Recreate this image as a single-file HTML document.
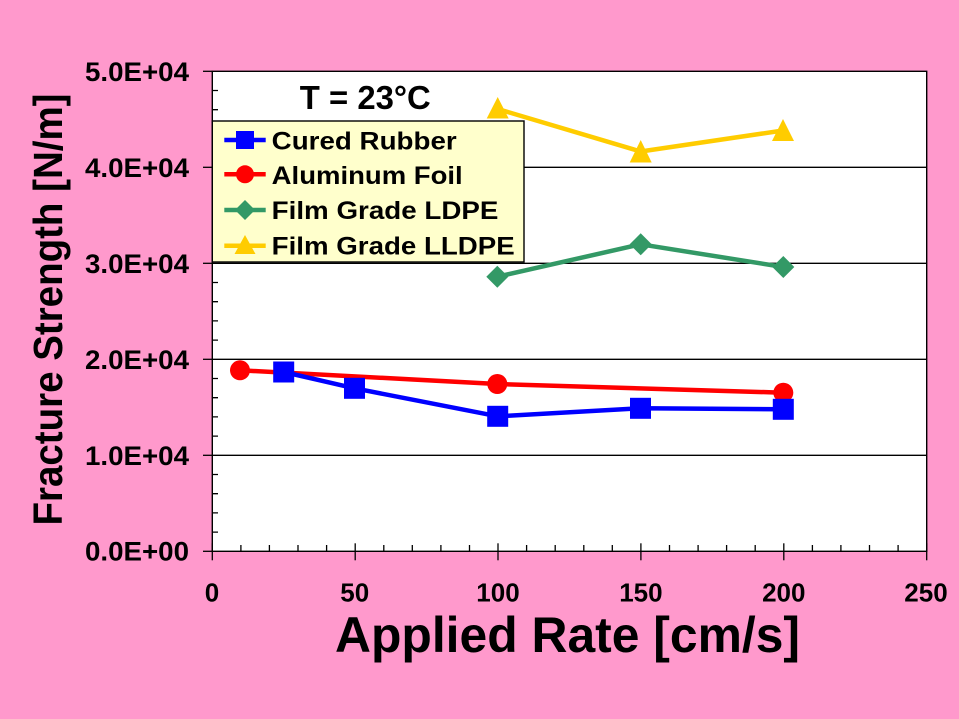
<!DOCTYPE html>
<html>
<head>
<meta charset="utf-8">
<style>
html,body{margin:0;padding:0;background:#FF99CC;}
svg{display:block;}
text{font-family:"Liberation Sans",Arial,sans-serif;font-weight:bold;fill:#000;}
</style>
</head>
<body>
<svg width="959" height="719" viewBox="0 0 959 719" xmlns="http://www.w3.org/2000/svg">
<rect x="0" y="0" width="959" height="719" fill="#FF99CC"/>
<!-- plot area -->
<rect x="212.3" y="71.3" width="714.4" height="480" fill="#FFFFFF" stroke="#000" stroke-width="1.4"/>
<!-- gridlines -->
<g stroke="#000" stroke-width="1.3">
<line x1="212.3" y1="455.3" x2="926.7" y2="455.3"/>
<line x1="212.3" y1="359.3" x2="926.7" y2="359.3"/>
<line x1="212.3" y1="263.3" x2="926.7" y2="263.3"/>
<line x1="212.3" y1="167.3" x2="926.7" y2="167.3"/>
</g>
<!-- y axis ticks -->
<g stroke="#000" stroke-width="1.3">
<line x1="203" y1="551.3" x2="212.3" y2="551.3"/>
<line x1="203" y1="455.3" x2="212.3" y2="455.3"/>
<line x1="203" y1="359.3" x2="212.3" y2="359.3"/>
<line x1="203" y1="263.3" x2="212.3" y2="263.3"/>
<line x1="203" y1="167.3" x2="212.3" y2="167.3"/>
<line x1="203" y1="71.3" x2="212.3" y2="71.3"/>
<path d="M212 532.1h6M212 512.9h6M212 493.7h6M212 474.5h6
M212 436.1h6M212 416.9h6M212 397.7h6M212 378.5h6
M212 340.1h6M212 320.9h6M212 301.7h6M212 282.5h6
M212 244.1h6M212 224.9h6M212 205.7h6M212 186.5h6
M212 148.1h6M212 128.9h6M212 109.7h6M212 90.5h6"/>
</g>
<!-- x axis ticks -->
<g stroke="#000" stroke-width="1.3">
<line x1="212.3" y1="543.3" x2="212.3" y2="560.3"/>
<line x1="355.2" y1="543.3" x2="355.2" y2="560.3"/>
<line x1="498" y1="543.3" x2="498" y2="560.3"/>
<line x1="640.9" y1="543.3" x2="640.9" y2="560.3"/>
<line x1="783.8" y1="543.3" x2="783.8" y2="560.3"/>
<line x1="926.7" y1="543.3" x2="926.7" y2="560.3"/>
<path d="M240.9 545v6M269.4 545v6M298 545v6M326.6 545v6
M383.8 545v6M412.3 545v6M440.9 545v6M469.5 545v6
M526.6 545v6M555.2 545v6M583.8 545v6M612.3 545v6
M669.5 545v6M698.1 545v6M726.6 545v6M755.2 545v6
M812.4 545v6M840.9 545v6M869.5 545v6M898.1 545v6"/>
</g>
<!-- y tick labels -->
<g font-size="27" text-anchor="end">
<text x="189" y="80.8" textLength="104" lengthAdjust="spacingAndGlyphs">5.0E+04</text>
<text x="189" y="176.8" textLength="104" lengthAdjust="spacingAndGlyphs">4.0E+04</text>
<text x="189" y="272.8" textLength="104" lengthAdjust="spacingAndGlyphs">3.0E+04</text>
<text x="189" y="368.8" textLength="104" lengthAdjust="spacingAndGlyphs">2.0E+04</text>
<text x="189" y="464.8" textLength="104" lengthAdjust="spacingAndGlyphs">1.0E+04</text>
<text x="189" y="560.3" textLength="104" lengthAdjust="spacingAndGlyphs">0.0E+00</text>
</g>
<!-- x tick labels -->
<g font-size="26" text-anchor="middle">
<text x="212" y="601.7">0</text>
<text x="354.7" y="601.7">50</text>
<text x="498" y="601.7">100</text>
<text x="640.9" y="601.7">150</text>
<text x="783.8" y="601.7">200</text>
<text x="926" y="601.7">250</text>
</g>
<!-- axis titles -->
<text x="567.5" y="652" font-size="50" text-anchor="middle" textLength="465" lengthAdjust="spacingAndGlyphs">Applied Rate [cm/s]</text>
<text transform="translate(62,309.5) rotate(-90)" x="0" y="0" font-size="41" text-anchor="middle" textLength="432" lengthAdjust="spacingAndGlyphs">Fracture Strength [N/m]</text>
<!-- T label -->
<text x="365.3" y="109" font-size="33" text-anchor="middle" textLength="131" lengthAdjust="spacingAndGlyphs">T = 23°C</text>

<!-- series: LLDPE yellow -->
<polyline points="497.7,109 640.7,151.5 783,130.5" fill="none" stroke="#FFCC00" stroke-width="4.5" stroke-linejoin="round"/>
<g fill="#FFCC00">
<polygon points="497.7,97 486.7,118.5 508.7,118.5"/>
<polygon points="640.7,140 629.7,162.5 651.7,162.5"/>
<polygon points="783,119 772,141 794,141"/>
</g>
<!-- series: LDPE green -->
<polyline points="497.3,276.7 640.7,244.3 783.3,267" fill="none" stroke="#339966" stroke-width="4.5" stroke-linejoin="round"/>
<g fill="#339966">
<polygon points="497.3,265.7 508.3,276.7 497.3,287.7 486.3,276.7"/>
<polygon points="640.7,233.3 651.7,244.3 640.7,255.3 629.7,244.3"/>
<polygon points="783.3,256 794.3,267 783.3,278 772.3,267"/>
</g>
<!-- series: Aluminum red -->
<polyline points="240,370.3 497.3,384 783.3,392.7" fill="none" stroke="#FF0000" stroke-width="4.5" stroke-linejoin="round"/>
<g fill="#FF0000">
<circle cx="240" cy="370.3" r="10"/>
<circle cx="497.3" cy="384" r="10"/>
<circle cx="783.3" cy="392.7" r="10"/>
</g>
<!-- series: Cured rubber blue -->
<polyline points="283.7,372 354.5,388.3 497.7,416.3 640.5,408.3 783.3,409.3" fill="none" stroke="#0000FF" stroke-width="4.5" stroke-linejoin="round"/>
<g fill="#0000FF">
<rect x="273.2" y="361.5" width="21" height="21"/>
<rect x="344" y="377.8" width="21" height="21"/>
<rect x="487.2" y="405.8" width="21" height="21"/>
<rect x="630" y="397.8" width="21" height="21"/>
<rect x="772.8" y="398.8" width="21" height="21"/>
</g>

<!-- legend -->
<rect x="212.3" y="121" width="311.7" height="141" fill="#FFFFCC" stroke="#000" stroke-width="1.4"/>
<g stroke-width="4.5">
<line x1="224.3" y1="140" x2="265.7" y2="140" stroke="#0000FF"/>
<line x1="224.3" y1="174.3" x2="265.7" y2="174.3" stroke="#FF0000"/>
<line x1="224.3" y1="210" x2="265.7" y2="210" stroke="#339966"/>
<line x1="224.3" y1="245.7" x2="265.7" y2="245.7" stroke="#FFCC00"/>
</g>
<rect x="236" y="131" width="18" height="18" fill="#0000FF"/>
<circle cx="245" cy="174.3" r="9" fill="#FF0000"/>
<polygon points="245,200 255,210 245,220 235,210" fill="#339966"/>
<polygon points="245,235 234.5,254 255.5,254" fill="#FFCC00"/>
<g font-size="25">
<text x="271.7" y="149.3" textLength="185" lengthAdjust="spacingAndGlyphs">Cured Rubber</text>
<text x="271.7" y="184" textLength="191" lengthAdjust="spacingAndGlyphs">Aluminum Foil</text>
<text x="271.7" y="219" textLength="226.7" lengthAdjust="spacingAndGlyphs">Film Grade LDPE</text>
<text x="271.7" y="254.3" textLength="243" lengthAdjust="spacingAndGlyphs">Film Grade LLDPE</text>
</g>
</svg>
</body>
</html>
